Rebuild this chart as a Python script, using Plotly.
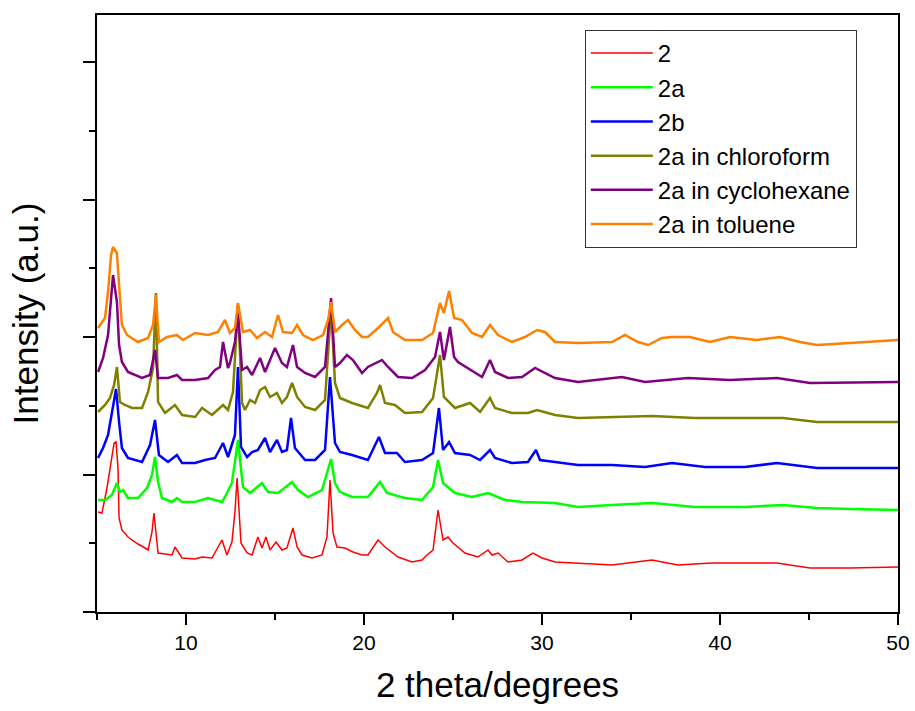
import plotly.graph_objects as go

# 2 theta (degrees) and intensity (a.u., offset-stacked as in the figure)
x_2 = [5.06, 5.28, 5.56, 5.79, 5.96, 6.07, 6.18, 6.24, 6.40, 6.74, 7.30, 7.70, 7.87, 8.09, 8.20, 8.31, 8.43,
       9.21, 9.38, 9.78, 10.51, 10.90, 11.46, 12.02, 12.30, 12.58, 12.75, 12.87, 13.09, 13.43, 13.71, 14.04,
       14.27, 14.49, 14.72, 15.06, 15.39, 15.67, 16.01, 16.24, 16.52, 17.08, 17.64, 17.92, 18.09, 18.26,
       18.48, 18.93, 19.38, 19.89, 20.22, 20.79, 21.18, 21.91, 22.70, 23.26, 23.54, 23.88, 24.16, 24.44,
       24.72, 25.00, 25.67, 26.40, 26.97, 27.19, 27.53, 28.09, 28.88, 29.49, 30.00, 30.73, 32.02, 33.93,
       36.18, 37.64, 39.55, 41.40, 43.20, 45.06, 47.30, 50.00]
y_2 = [100, 99, 124, 150, 169, 170, 144, 94, 82, 75, 68, 64, 62, 80, 99, 80, 59,
       57, 65, 54, 53, 55, 54, 72, 57, 70, 100, 134, 69, 59, 57, 75,
       64, 75, 62, 70, 62, 64, 84, 65, 57, 54, 57, 75, 132, 79,
       65, 64, 60, 57, 57, 72, 65, 55, 50, 52, 57, 62, 102, 72,
       75, 69, 59, 55, 62, 57, 59, 50, 52, 59, 54, 50, 49, 47,
       52, 47, 49, 49, 49, 44, 44, 45]

x_2a = [5.06, 5.45, 5.84, 6.12, 6.29, 6.46, 6.74, 7.30, 7.81, 8.09, 8.26, 8.43, 8.65, 9.21, 9.49, 9.78,
        10.51, 11.24, 12.02, 12.19, 12.58, 12.92, 13.20, 13.60, 14.27, 14.61, 15.17, 15.96, 16.29, 16.85,
        17.64, 17.98, 18.15, 18.37, 18.65, 19.33, 20.22, 20.90, 21.29, 22.30, 23.26, 23.88, 24.16, 24.44,
        25.11, 26.07, 26.97, 27.92, 28.88, 30.73, 32.02, 33.93, 36.18, 38.60, 41.40, 43.54, 45.45, 47.30, 50.00]
y_2a = [112, 112, 117, 129, 120, 122, 114, 114, 124, 137, 155, 130, 114, 110, 114, 110,
        110, 114, 110, 115, 129, 172, 125, 119, 129, 120, 119, 130, 122, 115,
        122, 142, 153, 129, 120, 115, 115, 130, 119, 114, 112, 125, 152, 129,
        119, 115, 119, 112, 110, 109, 105, 107, 109, 105, 105, 107, 104, 103, 102]

x_2b = [5.06, 5.34, 5.62, 5.90, 6.07, 6.24, 6.40, 6.74, 7.53, 7.98, 8.26, 8.48, 8.99, 9.49, 9.78, 10.51,
        11.07, 11.63, 12.08, 12.36, 12.75, 12.92, 13.09, 13.43, 13.71, 14.04, 14.44, 14.72, 15.11, 15.39,
        15.67, 15.90, 16.12, 16.69, 17.25, 17.81, 18.09, 18.37, 18.65, 19.33, 20.22, 20.84, 21.18, 21.85,
        22.30, 23.26, 23.88, 24.21, 24.44, 24.78, 25.11, 25.96, 26.52, 27.08, 27.36, 28.31, 29.21, 29.66,
        29.89, 30.73, 32.02, 33.93, 35.79, 37.30, 39.16, 41.40, 43.20, 45.45, 50.00]
y_2b = [154, 164, 177, 204, 223, 190, 164, 154, 150, 167, 192, 157, 150, 157, 149, 149,
        152, 154, 169, 155, 177, 245, 165, 155, 160, 162, 174, 160, 172, 160,
        162, 194, 164, 152, 152, 162, 235, 169, 160, 157, 152, 175, 159, 159,
        150, 152, 159, 204, 162, 170, 159, 157, 152, 162, 154, 149, 150, 162,
        152, 150, 147, 147, 145, 149, 145, 145, 149, 144, 144]

x_chl = [5.06, 5.45, 5.73, 5.96, 6.12, 6.29, 6.57, 6.97, 7.53, 7.87, 8.15, 8.31, 8.43, 8.82, 9.38, 9.78,
         10.51, 10.90, 11.46, 12.08, 12.36, 12.64, 12.92, 13.15, 13.31, 13.60, 13.88, 14.16, 14.44, 14.72,
         15.11, 15.39, 15.67, 15.96, 16.24, 16.69, 17.25, 17.81, 18.03, 18.15, 18.37, 18.65, 19.33, 20.22,
         20.73, 20.90, 21.18, 21.74, 22.30, 23.26, 23.88, 24.16, 24.27, 24.49, 25.11, 25.96, 26.52, 27.08,
         27.36, 28.31, 29.21, 29.72, 30.73, 32.02, 33.93, 36.18, 38.60, 41.40, 43.54, 45.45, 50.00]
y_chl = [200, 207, 214, 227, 245, 210, 207, 204, 204, 220, 244, 319, 210, 199, 207, 197,
         195, 204, 197, 207, 202, 220, 307, 209, 202, 212, 209, 222, 225, 215,
         219, 209, 215, 229, 215, 205, 202, 212, 272, 305, 229, 214, 209, 204,
         219, 227, 209, 207, 199, 200, 214, 242, 257, 215, 204, 209, 200, 214,
         204, 199, 199, 202, 197, 194, 195, 196, 194, 194, 194, 190, 190]

x_cyc = [5.06, 5.34, 5.62, 5.79, 5.90, 6.12, 6.24, 6.40, 6.74, 7.53, 7.98, 8.26, 8.43, 8.99, 9.49, 9.78,
         10.51, 11.24, 11.63, 11.91, 12.08, 12.36, 12.47, 12.75, 12.92, 13.15, 13.43, 13.71, 14.16, 14.44,
         15.00, 15.39, 15.67, 16.01, 16.24, 16.69, 17.25, 17.81, 18.03, 18.15, 18.37, 18.65, 19.04, 19.38,
         19.89, 20.22, 21.01, 21.35, 21.91, 22.70, 23.43, 23.99, 24.27, 24.49, 24.83, 25.06, 25.28, 25.96,
         26.63, 27.08, 27.36, 28.09, 28.88, 29.61, 30.17, 30.73, 32.02, 34.49, 35.79, 38.20, 40.56, 43.20,
         45.06, 50.00]
y_cyc = [240, 254, 277, 317, 337, 310, 267, 250, 240, 234, 237, 262, 234, 234, 237, 232,
         232, 234, 242, 245, 270, 244, 249, 270, 299, 242, 245, 237, 254, 240,
         264, 249, 245, 267, 245, 239, 235, 245, 289, 314, 245, 249, 257, 252,
         239, 245, 252, 245, 235, 234, 242, 255, 280, 252, 285, 255, 250, 242,
         235, 252, 240, 234, 235, 244, 239, 234, 230, 235, 230, 234, 232, 234,
         229, 230]

x_tol = [5.06, 5.45, 5.62, 5.79, 5.90, 6.12, 6.24, 6.40, 6.69, 7.30, 7.87, 8.15, 8.31, 8.48, 8.93, 9.49,
         9.83, 10.51, 11.24, 11.80, 12.19, 12.47, 12.75, 12.92, 13.20, 13.60, 13.99, 14.44, 14.83, 15.17,
         15.45, 15.96, 16.24, 16.57, 17.13, 17.70, 17.98, 18.15, 18.37, 18.76, 19.10, 19.49, 19.89, 20.22,
         20.79, 21.35, 21.63, 22.30, 23.26, 23.88, 24.27, 24.49, 24.78, 25.06, 25.51, 26.07, 26.63, 27.08,
         27.53, 28.31, 29.04, 29.72, 30.17, 30.73, 32.02, 33.93, 34.66, 35.39, 35.96, 36.74, 37.30, 38.31,
         39.44, 40.56, 42.08, 43.37, 44.49, 45.45, 47.30, 50.00]
y_tol = [284, 294, 320, 357, 365, 359, 327, 287, 277, 270, 274, 287, 317, 270, 275, 277,
         272, 279, 277, 280, 292, 279, 284, 309, 280, 282, 274, 280, 275, 297,
         280, 279, 287, 277, 272, 277, 292, 310, 280, 287, 292, 282, 275, 275,
         284, 294, 280, 272, 272, 279, 309, 299, 321, 294, 292, 279, 275, 287,
         277, 270, 275, 282, 280, 270, 269, 270, 277, 270, 267, 274, 275, 275,
         270, 275, 272, 275, 270, 267, 269, 272]

names = ["2", "2a", "2b", "2a in chloroform", "2a in cyclohexane", "2a in toluene"]
colors = ["#FF0000", "#00FF00", "#0000FF", "#808000", "#800080", "#FF8000"]
xs = [x_2, x_2a, x_2b, x_chl, x_cyc, x_tol]
ys = [y_2, y_2a, y_2b, y_chl, y_cyc, y_tol]
widths = [1.5, 2.5, 2.5, 2.5, 2.5, 2.5]

fig = go.Figure()
for n, c, x, y, w in zip(names, colors, xs, ys, widths):
    fig.add_trace(go.Scatter(x=x, y=y, mode="lines", name=n,
                             line=dict(color=c, width=w)))

FONT = "Liberation Sans, Arial, sans-serif"
fig.update_layout(
    width=915, height=711,
    margin=dict(l=97, r=17, t=15, b=99, autoexpand=False),
    paper_bgcolor="white", plot_bgcolor="white",
    font=dict(family=FONT, color="black"),
    showlegend=True,
    legend=dict(x=0.609, y=0.975, xanchor="left", yanchor="top",
                bgcolor="white", bordercolor="#333333", borderwidth=1,
                itemwidth=62,
                font=dict(size=24, family=FONT, color="black")),
)
fig.update_xaxes(
    range=[5, 50], showgrid=False, zeroline=False, automargin=False,
    showline=True, linewidth=2, linecolor="black", mirror=True,
    ticks="outside", ticklen=11, tickwidth=2, tickcolor="black",
    tick0=0, dtick=10,
    minor=dict(ticks="outside", ticklen=6, tickwidth=2, tickcolor="black", dtick=5, tick0=0),
    tickfont=dict(size=21, family=FONT),
    title=dict(text="2 theta/degrees", font=dict(size=35, family=FONT), standoff=19),
)
fig.update_yaxes(
    range=[0, 597], showgrid=False, zeroline=False, automargin=False,
    showline=True, linewidth=2, linecolor="black", mirror=True,
    ticks="outside", ticklen=12, tickwidth=2, tickcolor="black",
    tick0=0, dtick=137.5, showticklabels=False,
    minor=dict(ticks="outside", ticklen=6, tickwidth=2, tickcolor="black", dtick=68.75, tick0=0),
    title=dict(text="Intensity (a.u.)", font=dict(size=35, family=FONT), standoff=34),
)
fig.write_html("out.html")
